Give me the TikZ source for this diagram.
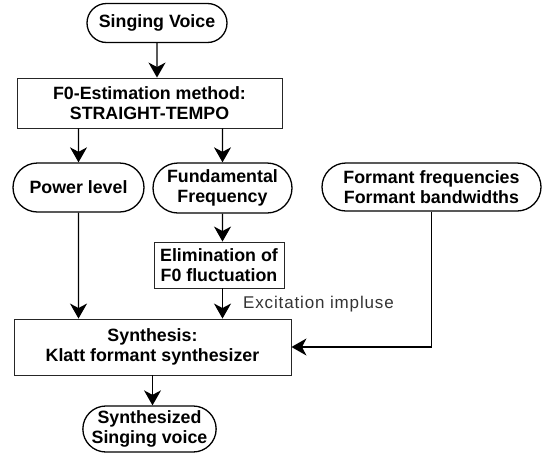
\documentclass[tikz,border=0pt]{standalone}
\usepackage{fontspec}
\setmainfont{Liberation Sans}
\usetikzlibrary{arrows.meta,shapes.misc}

\begin{document}
\begin{tikzpicture}[x=1pt,y=-1pt,
    every node/.style={font=\fontsize{17.8}{19.5}\selectfont\bfseries,align=center,inner sep=0pt},
    stadium/.style={draw,line width=1.3pt,rounded rectangle},
    block/.style={draw=black!85,line width=0.9pt},
    flow/.style={line width=1.3pt,-{Stealth[length=15pt,width=17pt,inset=4.5pt]}}]
    \useasboundingbox (0,0) rectangle (543,453);

    \node[stadium,minimum width=140pt,minimum height=39pt] (voice) at (157,23) {Singing Voice};
    \node[block,minimum width=265pt,minimum height=50pt] (f0est) at (149.5,103)
      {F0-Estimation method:\\STRAIGHT-TEMPO};
    \node[stadium,minimum width=131pt,minimum height=49pt] (power) at (78.5,187.5) {Power level};
    \node[stadium,minimum width=139pt,minimum height=50pt] (fund) at (222.5,188)
      {Fundamental\\Frequency};
    \node[stadium,minimum width=219pt,minimum height=48pt] (formant) at (431.5,187)
      {Formant frequencies\\Formant bandwidths};
    \node[block,minimum width=130pt,minimum height=46pt] (elim) at (219,265)
      {Elimination of\\F0 fluctuation};
    \node[block,minimum width=277pt,minimum height=56pt] (synth) at (152.5,347)
      {Synthesis:\\Klatt formant synthesizer};
    \node[stadium,minimum width=127pt,minimum height=46pt] (out) at (149.5,429)
      {Synthesized\\Singing voice};
    \node[font=\fontsize{17}{19}\selectfont\addfontfeature{LetterSpace=5},text=black!80,anchor=west]
      (excite) at (243,304) {Excitation impluse};

    \draw[flow] (voice) -- (voice |- f0est.north);
    \draw[flow] (power |- f0est.south) -- (power);
    \draw[flow] (fund |- f0est.south) -- (fund);
    \draw[flow] (fund) -- (fund |- elim.north);
    \draw[flow] (power) -- (power |- synth.north);
    \draw[flow] (fund |- elim.south) -- (fund |- synth.north);
    \draw[flow] (formant) |- (synth);
    \draw[flow] (synth) -- (synth |- out.north);
  \end{tikzpicture}
\end{document}
